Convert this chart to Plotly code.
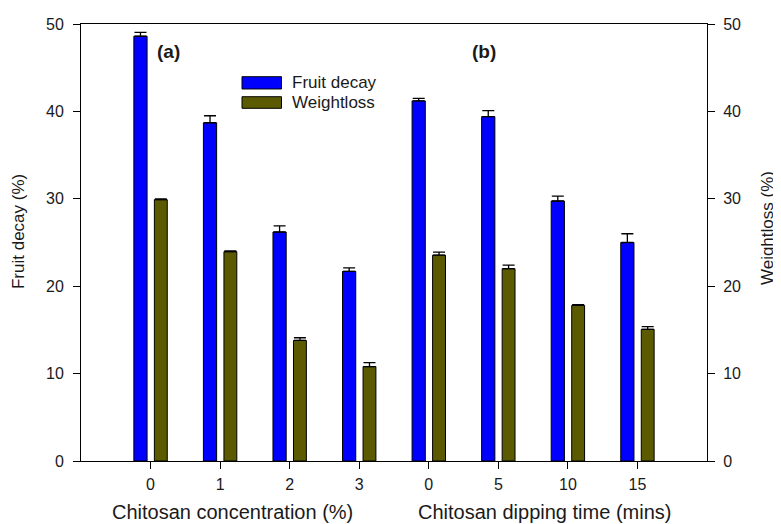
import plotly.graph_objects as go

# ---- data ----
categories = ["0", "1", "2", "3", "0", "5", "10", "15"]
x_pos = list(range(len(categories)))
fruit_decay = [48.6, 38.7, 26.2, 21.7, 41.2, 39.4, 29.75, 25.0]
fruit_decay_err = [0.45, 0.8, 0.7, 0.4, 0.3, 0.7, 0.55, 1.0]
weightloss = [29.9, 23.95, 13.8, 10.8, 23.55, 22.0, 17.8, 15.07]
weightloss_err = [0.1, 0.1, 0.3, 0.45, 0.35, 0.4, 0.1, 0.3]
y_ticks = [0, 10, 20, 30, 40, 50]

BLUE = "#0000ff"
OLIVE = "#5c5a00"
FONT = "Arial, Liberation Sans, sans-serif"
TXT = "#1a1a1a"

fig = go.Figure()
fig.add_trace(go.Bar(
    x=x_pos, y=fruit_decay, name="Fruit decay",
    offset=-0.24, width=0.19,
    marker=dict(color=BLUE, line=dict(color="black", width=1)),
    error_y=dict(type="data", symmetric=False, array=fruit_decay_err,
                 arrayminus=[0] * len(fruit_decay_err),
                 color="black", thickness=1.3, width=6),
    showlegend=False, yaxis="y",
))
fig.add_trace(go.Bar(
    x=x_pos, y=weightloss, name="Weightloss",
    offset=0.055, width=0.185,
    marker=dict(color=OLIVE, line=dict(color="black", width=1)),
    error_y=dict(type="data", symmetric=False, array=weightloss_err,
                 arrayminus=[0] * len(weightloss_err),
                 color="black", thickness=1.3, width=6),
    showlegend=False, yaxis="y2",
))

axis_common = dict(showline=True, linecolor="black", linewidth=1,
                   ticks="outside", ticklen=7, tickcolor="black",
                   showgrid=False, zeroline=False, automargin=False,
                   tickfont=dict(family=FONT, size=16, color=TXT))

fig.update_layout(
    width=781, height=524,
    margin=dict(l=73, r=82, t=16, b=71),
    paper_bgcolor="white", plot_bgcolor="white",
    barmode="overlay",
    xaxis=dict(range=[-1.0, 8.0], tickvals=x_pos, ticktext=categories,
               mirror=True, ticklabelstandoff=2, **axis_common),
    yaxis=dict(range=[0, 50], tickvals=y_ticks, mirror=True,
               ticklabelstandoff=6, **axis_common),
    yaxis2=dict(range=[0, 50], tickvals=y_ticks, overlaying="y", side="right",
                ticklabelstandoff=5, **axis_common),
)

ann_font = dict(family=FONT, size=17, color=TXT)
title_font = dict(family=FONT, size=20, color=TXT)
annotations = [
    dict(text="Chitosan concentration (%)", x=0.242, y=-0.146, xref="paper", yref="paper",
         showarrow=False, font=title_font, xanchor="center", yanchor="bottom"),
    dict(text="Chitosan dipping time (mins)", x=0.741, y=-0.146, xref="paper", yref="paper",
         showarrow=False, font=title_font, xanchor="center", yanchor="bottom"),
    dict(text="Fruit decay (%)", x=-0.1006, y=0.524, xref="paper", yref="paper", textangle=-90,
         showarrow=False, font=ann_font, xanchor="center", yanchor="middle"),
    dict(text="Weightloss (%)", x=1.0958, y=0.533, xref="paper", yref="paper", textangle=-90,
         showarrow=False, font=ann_font, xanchor="center", yanchor="middle"),
    dict(text="<b>(a)</b>", x=0.1398, y=0.938, xref="paper", yref="paper",
         showarrow=False, font=dict(family=FONT, size=19, color=TXT), xanchor="center", yanchor="middle"),
    dict(text="<b>(b)</b>", x=0.643, y=0.938, xref="paper", yref="paper",
         showarrow=False, font=dict(family=FONT, size=19, color=TXT), xanchor="center", yanchor="middle"),
    dict(text="Fruit decay", x=0.3339, y=0.866, xref="paper", yref="paper",
         showarrow=False, font=ann_font, xanchor="left", yanchor="middle"),
    dict(text="Weightloss", x=0.3339, y=0.820, xref="paper", yref="paper",
         showarrow=False, font=ann_font, xanchor="left", yanchor="middle"),
]
fig.update_layout(annotations=annotations)

fig.add_shape(type="rect", xref="paper", yref="paper", x0=0.2572, x1=0.3203, y0=0.8513, y1=0.8794,
              fillcolor=BLUE, line=dict(color="black", width=1))
fig.add_shape(type="rect", xref="paper", yref="paper", x0=0.2572, x1=0.3203, y0=0.8071, y1=0.8336,
              fillcolor=OLIVE, line=dict(color="black", width=1))

fig.write_html("out.html")
